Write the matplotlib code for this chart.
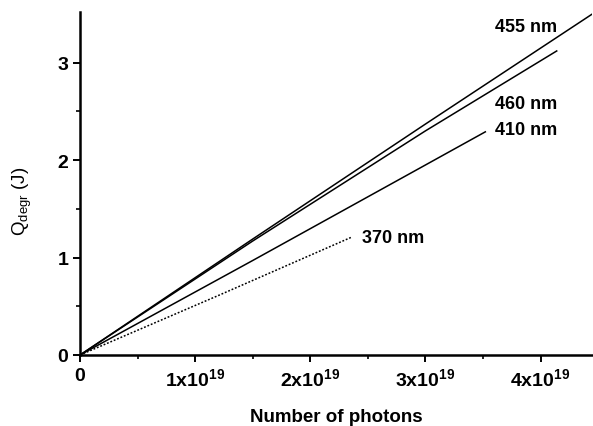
import matplotlib
matplotlib.use('Agg')
import matplotlib.pyplot as plt
import numpy as np

plt.rcParams['font.family'] = ['Liberation Sans', 'DejaVu Sans']
plt.rcParams['mathtext.default'] = 'regular'

# photons in units of 1e19, Q in J
x_455 = [0.0, 1.5, 3.0, 4.45]
q_455 = [0.0, 1.19, 2.37, 3.50]
x_460 = [0.0, 1.5, 3.0, 4.14]
q_460 = [0.0, 1.17, 2.30, 3.12]
x_410 = [0.0, 1.5, 3.0, 3.52]
q_410 = [0.0, 0.97, 1.95, 2.29]
x_370 = [0.0, 1.2, 2.36]
q_370 = [0.0, 0.61, 1.21]

labels = ['455 nm', '460 nm', '410 nm', '370 nm']
label_pos = [(3.60, 3.37), (3.60, 2.58), (3.60, 2.31), (2.45, 1.21)]

xticks = [0, 1, 2, 3, 4]
xticklabels = ['0', '1x10$^{19}$', '2x10$^{19}$', '3x10$^{19}$', '4x10$^{19}$']
yticks = [0, 1, 2, 3]

fig = plt.figure(figsize=(5.93, 4.27), dpi=100)
ax = fig.add_axes([0.135, 0.1663, 0.864, 0.8033])

ax.plot(x_455, q_455, color='black', lw=1.1)
ax.plot(x_460, q_460, color='black', lw=1.1)
ax.plot(x_410, q_410, color='black', lw=1.1)
ax.plot(x_370, q_370, color='black', lw=1.1, linestyle=(0, (1.2, 1.2)))

for lab, (tx, ty) in zip(labels, label_pos):
    ax.text(tx, ty, lab, fontsize=13, fontweight='bold', va='center', ha='left')

ax.set_xlim(0, 4.45)
ax.set_ylim(0, 3.52)
ax.set_xticks(xticks)
ax.set_xticklabels(xticklabels, fontweight='bold')
ax.set_yticks(yticks)
ax.set_yticklabels([str(v) for v in yticks], fontweight='bold')
ax.set_xticks(np.arange(0.5, 4.5, 1.0), minor=True)
ax.set_yticks(np.arange(0.5, 3.5, 1.0), minor=True)

ax.spines['top'].set_visible(False)
ax.spines['right'].set_visible(False)
ax.spines['left'].set_linewidth(1.8)
ax.spines['bottom'].set_linewidth(1.8)
ax.tick_params(which='major', direction='out', length=5, width=1.4, labelsize=14)
ax.tick_params(which='minor', direction='out', length=3, width=1.2)

ax.set_xlabel('Number of photons', fontsize=13.5, fontweight='bold', labelpad=14)
ax.set_ylabel('Q$_{degr}$ (J)', fontsize=13.5)
ax.yaxis.set_label_coords(-0.09, 0.45)

fig.savefig('out.png', dpi=100)
